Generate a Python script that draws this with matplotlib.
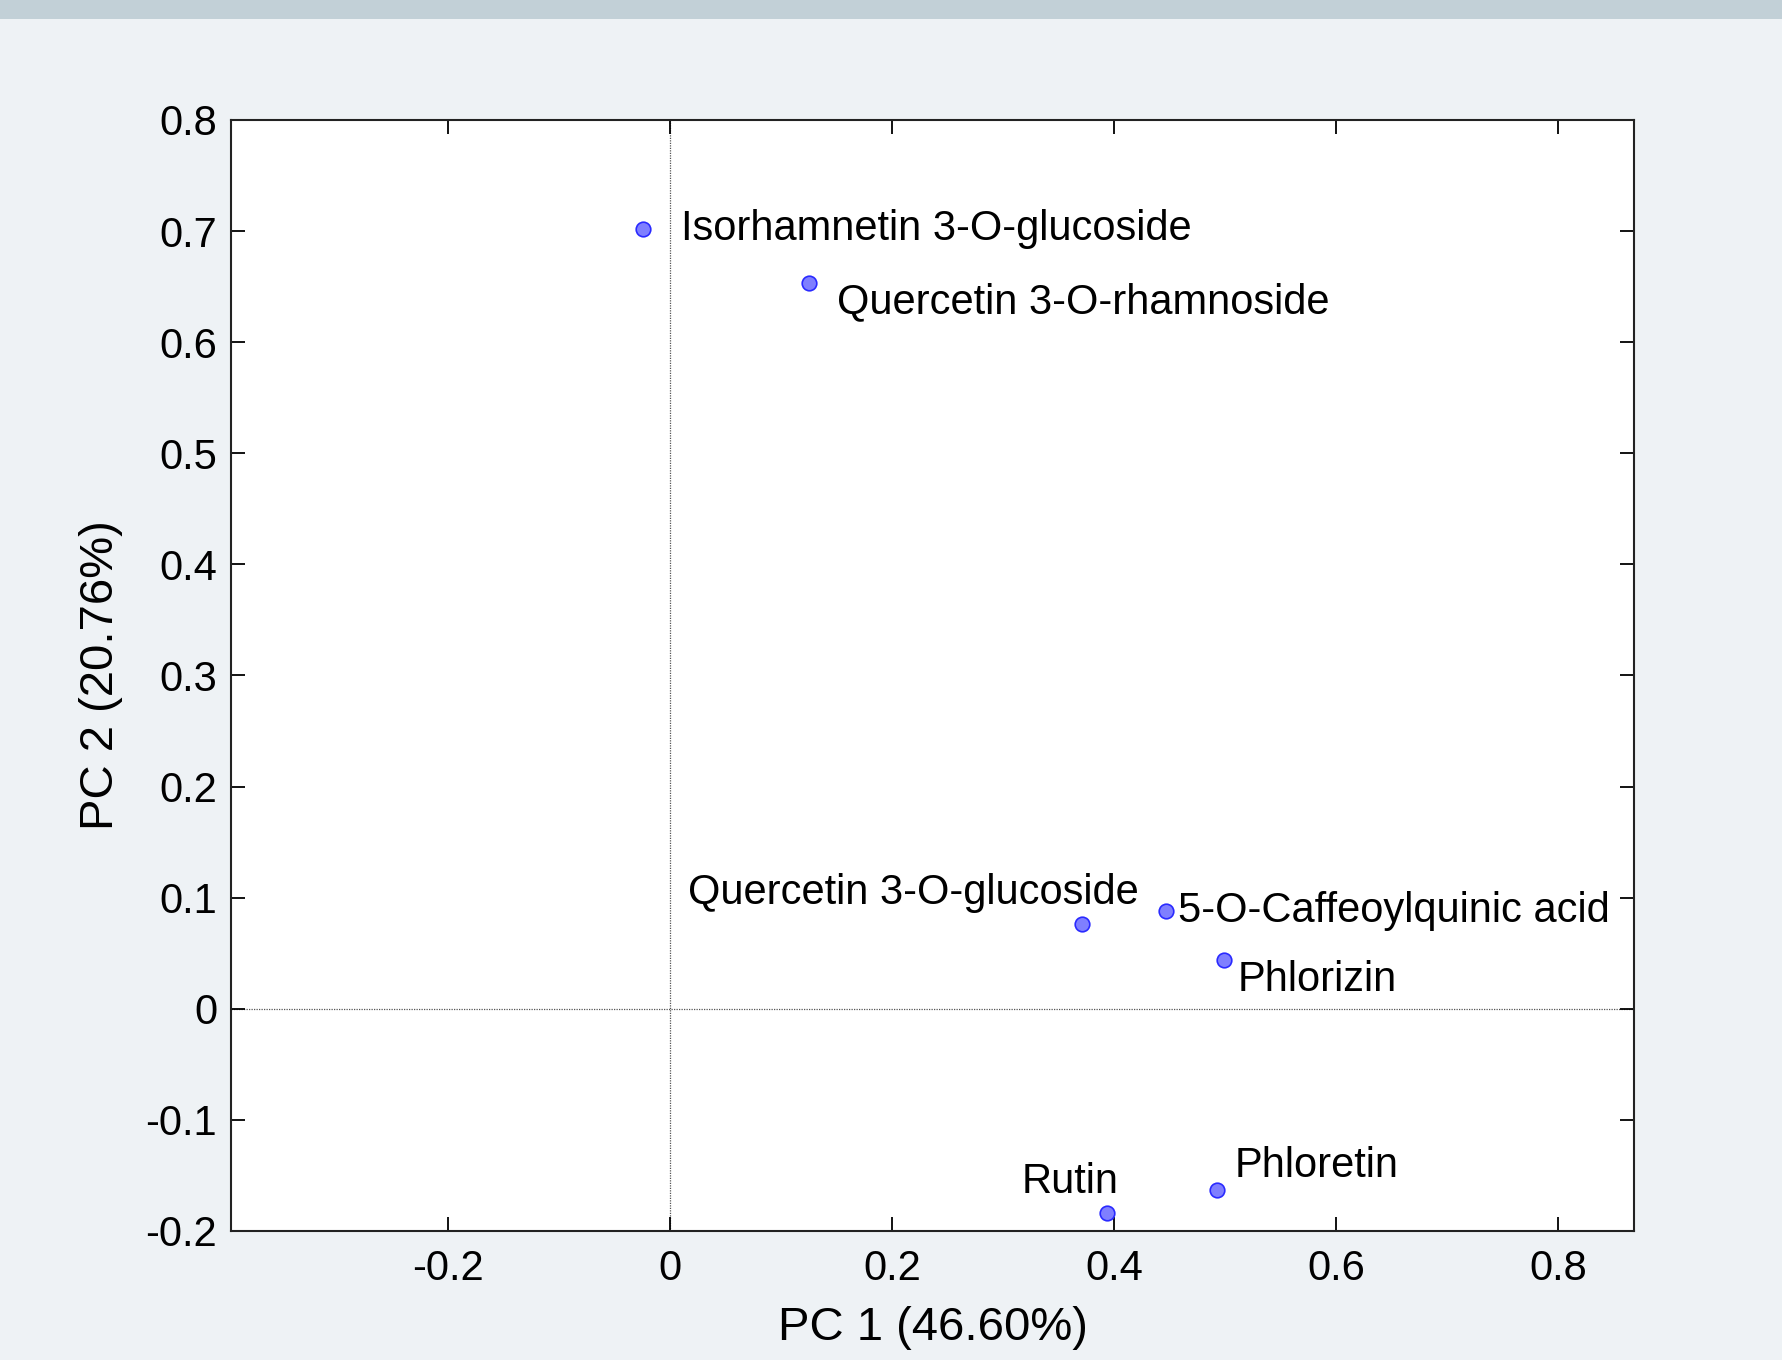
import matplotlib
matplotlib.use('Agg')
from matplotlib import pyplot as plt
from matplotlib.patches import Rectangle

# PCA loadings
compounds = ['Isorhamnetin 3-O-glucoside', 'Quercetin 3-O-rhamnoside', 'Quercetin 3-O-glucoside',
             '5-O-Caffeoylquinic acid', 'Phlorizin', 'Phloretin', 'Rutin']
pc1 = [-0.024, 0.125, 0.371, 0.447, 0.499, 0.493, 0.394]
pc2 = [0.702, 0.653, 0.076, 0.088, 0.044, -0.163, -0.184]

xticks = [-0.2, 0, 0.2, 0.4, 0.6, 0.8]
xticklabels = ['-0.2', '0', '0.2', '0.4', '0.6', '0.8']
yticks = [-0.2, -0.1, 0, 0.1, 0.2, 0.3, 0.4, 0.5, 0.6, 0.7, 0.8]
yticklabels = ['-0.2', '-0.1', '0', '0.1', '0.2', '0.3', '0.4', '0.5', '0.6', '0.7', '0.8']

# label placement: (dx, dy) in pixels, horizontal alignment
label_offsets = [(38, 0, 'left'), (28, -19, 'left'), (57, 31, 'right'), (12, 0, 'left'),
                 (14, -20, 'left'), (17, 24, 'left'), (11, 31, 'right')]

plt.rcParams['font.family'] = ['Liberation Sans', 'DejaVu Sans']

fig = plt.figure(figsize=(17.83, 13.6), dpi=100, facecolor='#eef2f5')
# slide-like band at the top
fig.patches.append(Rectangle((0, 1 - 19 / 1360), 1, 19 / 1360, transform=fig.transFigure,
                             facecolor='#c2d0d7', edgecolor='none', zorder=0))

ax = fig.add_axes([0.1296, 0.0949, 0.7868, 0.8169])
ax.set_facecolor('white')

# zero reference lines
ax.axhline(0, color='#555555', linewidth=0.9, linestyle=(0, (1, 1)), zorder=1)
ax.axvline(0, color='#555555', linewidth=0.9, linestyle=(0, (1, 1)), zorder=1)

ax.plot(pc1, pc2, linestyle='none', marker='o', markersize=10.5, markerfacecolor='#7f7fff',
        markeredgecolor='#2a2aff', markeredgewidth=1.2, zorder=3)

for name, x, y, (dx, dy, ha) in zip(compounds, pc1, pc2, label_offsets):
    ax.annotate(name, (x, y), xytext=(dx, dy), textcoords='offset pixels',
                ha=ha, va='center', fontsize=30, color='black')

ax.set_xlim(-0.395, 0.868)
ax.set_ylim(-0.2, 0.8)
ax.set_xticks(xticks)
ax.set_xticklabels(xticklabels)
ax.set_yticks(yticks)
ax.set_yticklabels(yticklabels)
ax.tick_params(direction='in', length=10, width=1.3, labelsize=30, top=True, right=True)
ax.tick_params(axis='x', pad=13)
ax.tick_params(axis='y', pad=10)
for spine in ax.spines.values():
    spine.set_linewidth(1.5)
    spine.set_color('#222222')

ax.set_xlabel('PC 1 (46.60%)', fontsize=34, labelpad=12)
ax.set_ylabel('PC 2 (20.76%)', fontsize=34, labelpad=16)

plt.savefig('out.png', dpi=100, facecolor=fig.get_facecolor())
